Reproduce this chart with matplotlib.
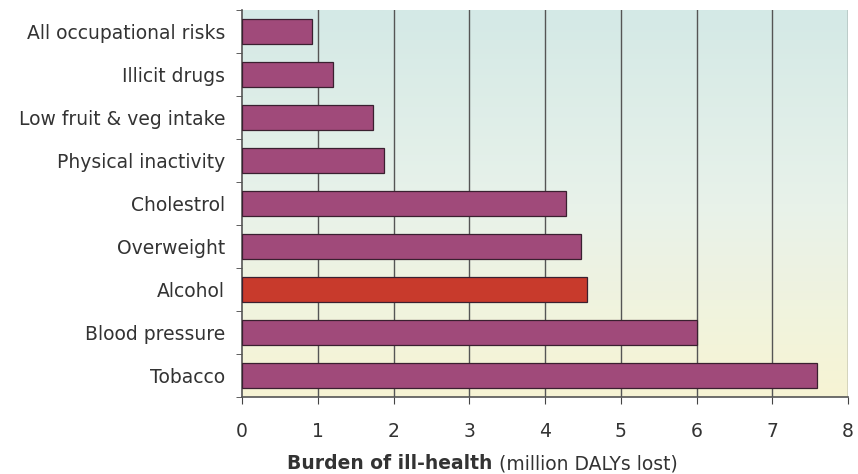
import numpy as np
import matplotlib
matplotlib.use("Agg")
import matplotlib.pyplot as plt
from matplotlib.colors import LinearSegmentedColormap

plt.rcParams['font.family'] = ['DejaVu Sans']

# datos (millones de DALYs perdidos)
riesgos = ["All occupational risks", "Illicit drugs", "Low fruit & veg intake",
           "Physical inactivity", "Cholestrol", "Overweight", "Alcohol",
           "Blood pressure", "Tobacco"]
valores = [0.92, 1.20, 1.73, 1.87, 4.28, 4.48, 4.56, 6.0, 7.59]
destacado = "Alcohol"

color_barra = "#a04a7a"
color_destacado = "#c83a2c"
color_texto = "#333333"

fig = plt.figure(figsize=(8.58, 4.74), dpi=100)
ax = fig.add_axes([242/858, 1-397/474, 606/858, 387/474])

# fondo degradado de azul verdoso a amarillo
fondo = LinearSegmentedColormap.from_list("fondo", ["#d4e9e6", "#e8f2ea", "#f7f4d4"])
ax.imshow(np.linspace(0, 1, 256).reshape(-1, 1), cmap=fondo, aspect="auto",
          extent=[0, 8, 8.5, -0.5], zorder=0)

y = np.arange(len(riesgos))
colores = [color_destacado if r == destacado else color_barra for r in riesgos]
ax.barh(y, valores, height=0.6, color=colores, edgecolor="#3a2030",
        linewidth=0.9, zorder=3)

ax.set_xlim(0, 8)
ax.set_ylim(8.5, -0.5)
ax.set_xticks(range(9))
for xg in range(1, 9):
    ax.axvline(xg, color="#555555", lw=1, zorder=1)

ax.set_yticks(y)
ax.set_yticklabels(riesgos)
ax.set_yticks(np.arange(-0.5, 9, 1), minor=True)
ax.tick_params(axis="y", which="major", length=0, pad=12, labelsize=13.5,
               labelcolor=color_texto)
ax.tick_params(axis="y", which="minor", length=4, color="#444444")
ax.tick_params(axis="x", length=5, color="#444444", pad=13, labelsize=13.5,
               labelcolor=color_texto)

for lado in ["top", "right"]:
    ax.spines[lado].set_visible(False)
for lado in ["left", "bottom"]:
    ax.spines[lado].set_color("#555555")
    ax.spines[lado].set_linewidth(1.2)

t1 = ax.text((287-242)/606, -0.187, "Burden of ill-health ", transform=ax.transAxes,
             fontsize=13.5, fontweight="bold", color=color_texto, va="baseline")
ax.annotate("(million DALYs lost)", xy=(1, 0), xycoords=t1, va="bottom",
            fontsize=13.5, color=color_texto)

fig.savefig("out.png", dpi=100, facecolor="white")
